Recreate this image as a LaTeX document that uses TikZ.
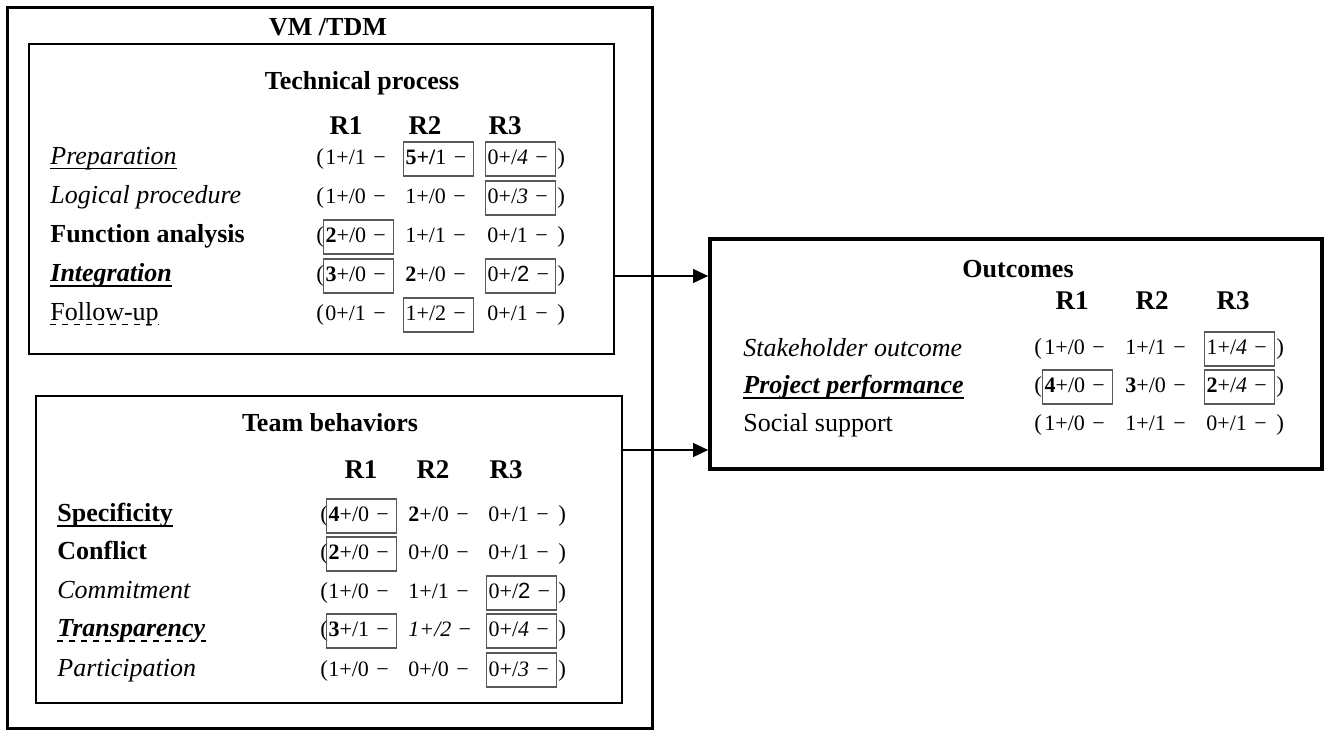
\documentclass[tikz,border=0pt]{standalone}
\usepackage{fontspec}
\setmainfont{Liberation Serif}
\setsansfont{Liberation Sans}
\usetikzlibrary{arrows.meta}

% one row of counts: ( cell cell cell )
\newcommand{\valrow}[8]{%
	\node[paren] (#1o) at (\xp,#2) {(};
	\node[#3] (#1a) at (\xa,#2) {#4};
	\node[#5] (#1b) at (\xb,#2) {#6};
	\node[#7] (#1c) at (\xc,#2) {#8};
	\node[paren] (#1e) at (\xq,#2) {)};
}

\begin{document}
\begin{tikzpicture}
	[
		x = 0.5pt, y = -0.5pt,
		every node/.append style = {font=\fontsize{13}{15}\selectfont},
		outerbox/.style = {draw, line width=1.5pt, inner sep=0pt},
		innerbox/.style = {draw, line width=1.1pt, inner sep=0pt},
		outbox/.style = {draw, line width=1.9pt, inner sep=0pt},
		title/.style = {anchor=base, font=\fontsize{13}{15}\selectfont\bfseries},
		head/.style = {anchor=base, font=\fontsize{13.5}{15}\selectfont\bfseries},
		lbl/.style = {anchor=base west, inner xsep=0pt},
		paren/.style = {anchor=base west, inner xsep=0pt, font=\fontsize{11.5}{13}\selectfont},
		cell/.style = {anchor=base west, inner xsep=1pt, inner ysep=1pt, text width=33pt, align=left,
			text height=10.5pt, text depth=4.5pt, font=\fontsize{11}{13}\selectfont},
		hicell/.style = {cell, draw=black!65, line width=0.6pt},
		uline/.style = {line width=0.6pt},
		bline/.style = {line width=1.1pt},
		link/.style = {line width=0.6pt, -{Triangle[length=7.5pt, width=7pt]}}]

	\useasboundingbox (0,0) rectangle (1328,731);

	% the three frames
	\node[outerbox, minimum width=322.5pt, minimum height=360pt] (vm) at (329.5,368) {};
	\node[innerbox, minimum width=292.5pt, minimum height=155pt] (tech) at (321.5,199) {};
	\node[innerbox, minimum width=293pt, minimum height=153.5pt] (team) at (329,549.5) {};
	\node[outbox, minimum width=306pt, minimum height=115pt] (outc) at (1016,354) {};

	\node[title] (vmt) at (328,36) {VM /TDM};

	% technical process
	\node[title] (techt) at (362,90) {Technical process};
	\node[head] (th1) at (346,135) {R1};
	\node[head] (th2) at (425,135) {R2};
	\node[head] (th3) at (505,135) {R3};

	\node[lbl] (prep) at (50,165) {\textit{Preparation}};
	\node[lbl] (logic) at (50,204) {\textit{Logical procedure}};
	\node[lbl] (func) at (50,243) {\textbf{Function analysis}};
	\node[lbl] (integ) at (50,282) {\textbf{\textit{Integration}}};
	\node[lbl] (follow) at (50,321) {Follow-up};
	\draw[uline] ([yshift=-1.6pt]prep.base west) -- ([yshift=-1.6pt]prep.base east);
	\draw[bline] ([yshift=-1.9pt]integ.base west) -- ([yshift=-1.9pt]integ.base east);
	\draw[uline, dashed] ([yshift=-1.9pt]follow.base west) -- ([yshift=-1.9pt]follow.base east);

	\def\xp{316}\def\xa{323}\def\xb{403}\def\xc{485}\def\xq{557}
	\valrow{prep}{165}{cell}{1+/1 −}{hicell}{\textbf{5+/}1 −}{hicell}{0+/\textit{4} −}
	\valrow{logic}{204}{cell}{1+/0 −}{cell}{1+/0 −}{hicell}{0+/\textit{3} −}
	\valrow{func}{243}{hicell}{\textbf{2}+/0 −}{cell}{1+/1 −}{cell}{0+/1 −}
	\valrow{integ}{282}{hicell}{\textbf{3}+/0 −}{cell}{\textbf{2}+/0 −}{hicell}{0+/\textsf{2} −}
	\valrow{follow}{321}{cell}{0+/1 −}{hicell}{1+/2 −}{cell}{0+/1 −}

	% team behaviors
	\node[title] (teamt) at (330,432) {Team behaviors};
	\node[head] (bh1) at (361,479) {R1};
	\node[head] (bh2) at (433,479) {R2};
	\node[head] (bh3) at (506,479) {R3};

	\node[lbl] (spec) at (57,522) {\textbf{Specificity}};
	\node[lbl] (confl) at (57,560) {\textbf{Conflict}};
	\node[lbl] (commit) at (57,599) {\textit{Commitment}};
	\node[lbl] (transp) at (57,637) {\textbf{\textit{Transparency}}};
	\node[lbl] (partic) at (57,676) {\textit{Participation}};
	\draw[bline] ([yshift=-1.9pt]spec.base west) -- ([yshift=-1.9pt]spec.base east);
	\draw[bline, dashed] ([yshift=-1.9pt]transp.base west) -- ([yshift=-1.9pt]transp.base east);

	\def\xp{320}\def\xa{326}\def\xb{406}\def\xc{486}\def\xq{558}
	\valrow{spec}{522}{hicell}{\textbf{4}+/0 −}{cell}{\textbf{2}+/0 −}{cell}{0+/1 −}
	\valrow{confl}{560}{hicell}{\textbf{2}+/0 −}{cell}{0+/0 −}{cell}{0+/1 −}
	\valrow{commit}{599}{cell}{1+/0 −}{cell}{1+/1 −}{hicell}{0+/\textsf{2} −}
	\valrow{transp}{637}{hicell}{\textbf{3}+/1 −}{cell}{\textit{1+/2} −}{hicell}{0+/\textit{4} −}
	\valrow{partic}{676}{cell}{1+/0 −}{cell}{0+/0 −}{hicell}{0+/\textit{3} −}

	% outcomes
	\node[title] (outt) at (1018,278) {Outcomes};
	\node[head] (oh1) at (1072,310) {R1};
	\node[head] (oh2) at (1152,310) {R2};
	\node[head] (oh3) at (1233,310) {R3};

	\node[lbl] (stake) at (743,357) {\textit{Stakeholder outcome}};
	\node[lbl] (perf) at (743,394) {\textbf{\textit{Project performance}}};
	\node[lbl] (social) at (743,432) {Social support};
	\draw[bline] ([yshift=-1.9pt]perf.base west) -- ([yshift=-1.9pt]perf.base east);

	\def\xp{1034}\def\xa{1042}\def\xb{1123}\def\xc{1204}\def\xq{1276}
	\valrow{stake}{355}{cell}{1+/0 −}{cell}{1+/1 −}{hicell}{1+/\textit{4} −}
	\valrow{perf}{393}{hicell}{\textbf{4}+/0 −}{cell}{\textbf{3}+/0 −}{hicell}{\textbf{2}+/\textit{4} −}
	\valrow{social}{431}{cell}{1+/0 −}{cell}{1+/1 −}{cell}{0+/1 −}

	% links to the outcomes
	\coordinate (t1) at ([yshift=-38.5pt]tech.east);
	\coordinate (t2) at ([yshift=49.75pt]team.east);
	\draw[link] (t1) -- (t1 -| outc.west);
	\draw[link] (t2) -- (t2 -| outc.west);
\end{tikzpicture}
\end{document}
